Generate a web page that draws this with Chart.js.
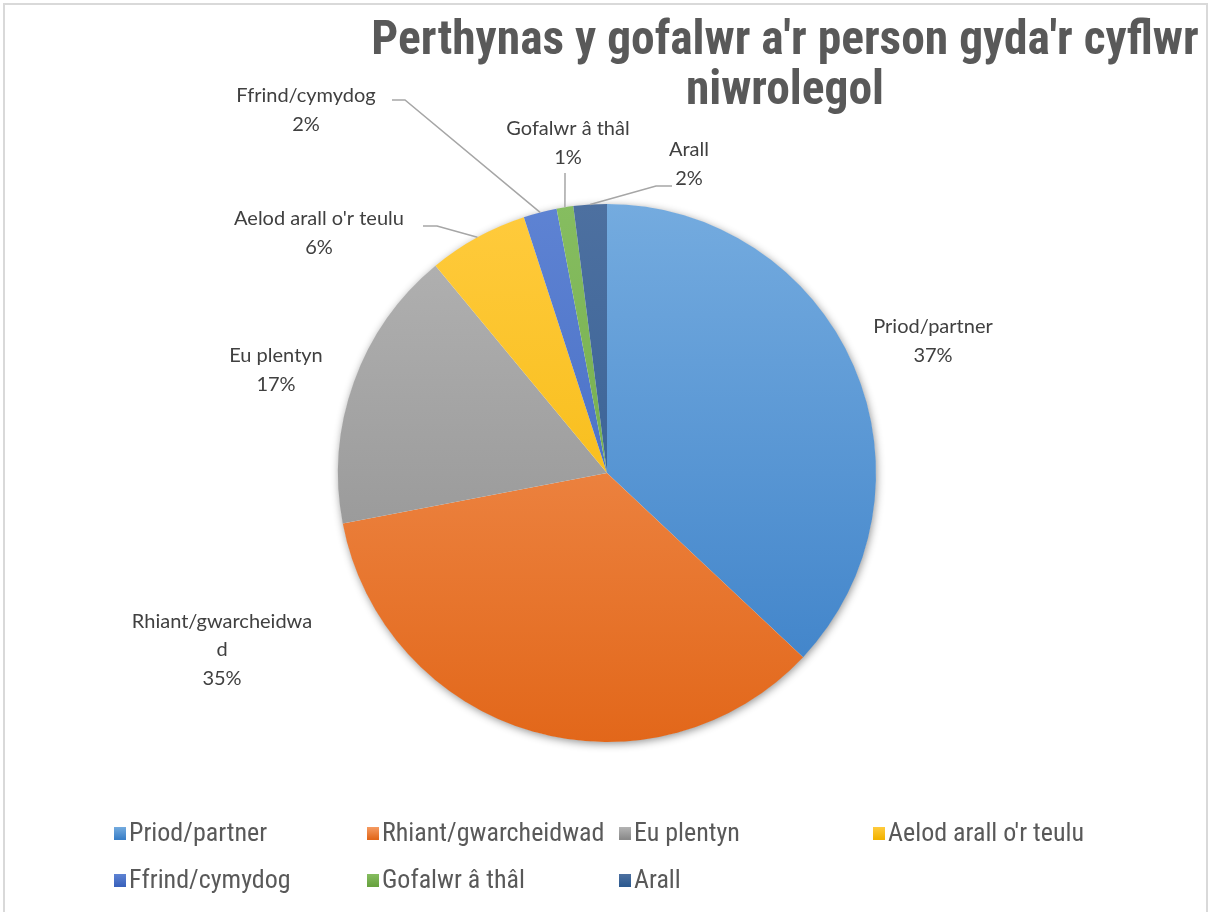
<!DOCTYPE html>
<html>
<head>
<meta charset="utf-8">
<script src="https://cdn.jsdelivr.net/npm/chart.js@4.4.1/dist/chart.umd.min.js"></script>
<style>
  html, body { margin: 0; padding: 0; background: #ffffff; }
  #wrap { position: relative; width: 1208px; height: 912px; }
  canvas { display: block; }
</style>
</head>
<body>
<div id="wrap"><canvas id="c" width="1208" height="912"></canvas></div>
<script>
// ---- data ----
const categories = ['Priod/partner', 'Rhiant/gwarcheidwad', 'Eu plentyn', "Aelod arall o'r teulu", 'Ffrind/cymydog', 'Gofalwr â thâl', 'Arall'];
const percentValues = [37, 35, 17, 6, 2, 1, 2];
const titleLines = ["Perthynas y gofalwr a'r person gyda'r cyflwr", 'niwrolegol'];

// ---- styles ----
const gradTop =    ['#74abdf', '#f59b62', '#b4b4b4', '#ffcb3d', '#5e83d3', '#86bd60', '#4d70a0'];
const gradBottom = ['#3a7fc7', '#e2671a', '#8a8a8a', '#f2b300', '#3a62bc', '#68a23f', '#2c5a90'];
// label text lines (as wrapped in the picture)
const labelLines = [
  ['Priod/partner'], ['Rhiant/gwarcheidwa', 'd'], ['Eu plentyn'], ["Aelod arall o'r teulu"],
  ['Ffrind/cymydog'], ['Gofalwr â thâl'], ['Arall']
];
// label block centre offsets from pie centre (px)
const labelPos = [[326, -132], [-385, 177], [-331, -103], [-288, -240], [-301, -363], [-39, -330], [82, -309]];
// leader elbow points [startX, startY, elbowX, elbowY] relative to pie centre, null = none
const leaders = [null, null, null,
  [-184, -247, -170, -247],
  [-215, -373, -202, -373],
  [-42, -300, -42, -290],
  [65, -287, 49, -287]];

const pieShadow = {
  id: 'pieShadow',
  beforeDatasetsDraw(chart) {
    const arc = chart.getDatasetMeta(0).data[0];
    if (!arc) return;
    const ctx = chart.ctx;
    ctx.save();
    ctx.shadowColor = 'rgba(0,0,0,0.45)';
    ctx.shadowBlur = 9;
    ctx.shadowOffsetX = 1;
    ctx.shadowOffsetY = 2;
    ctx.fillStyle = '#ffffff';
    ctx.beginPath();
    ctx.arc(arc.x, arc.y, arc.outerRadius - 0.5, 0, Math.PI * 2);
    ctx.fill();
    ctx.restore();
  }
};

const decorations = {
  id: 'decorations',
  afterDraw(chart) {
    const ctx = chart.ctx;
    const meta = chart.getDatasetMeta(0);
    const cx = meta.data[0].x, cy = meta.data[0].y;
    ctx.save();
    // frame
    ctx.strokeStyle = '#d9d9d9';
    ctx.lineWidth = 2;
    ctx.beginPath();
    ctx.moveTo(4, 912); ctx.lineTo(4, 4); ctx.lineTo(1207, 4); ctx.lineTo(1207, 912);
    ctx.stroke();

    // title
    ctx.fillStyle = '#595959';
    ctx.textAlign = 'center';
    ctx.textBaseline = 'middle';
    ctx.font = 'bold 47.5px "Roboto Condensed", "Liberation Sans Narrow", "Roboto", sans-serif';
    ctx.fillText(titleLines[0], 785, 42);
    ctx.fillText(titleLines[1], 785, 92);

    // leader lines
    ctx.strokeStyle = '#a6a6a6';
    ctx.lineWidth = 1.5;
    meta.data.forEach((a, i) => {
      const L = leaders[i];
      if (!L) return;
      const mid = (a.startAngle + a.endAngle) / 2;
      const px = cx + Math.cos(mid) * a.outerRadius;
      const py = cy + Math.sin(mid) * a.outerRadius;
      ctx.beginPath();
      ctx.moveTo(cx + L[0], cy + L[1]);
      ctx.lineTo(cx + L[2], cy + L[3]);
      ctx.lineTo(px, py);
      ctx.stroke();
    });

    // data labels
    ctx.fillStyle = '#404040';
    ctx.font = '20px "Lato", "Open Sans", sans-serif';
    const lh = 28.5;
    meta.data.forEach((a, i) => {
      const lines = labelLines[i].concat([percentValues[i] + '%']);
      const x = cx + labelPos[i][0];
      const y0 = cy + labelPos[i][1] - (lines.length - 1) * lh / 2;
      lines.forEach((t, k) => ctx.fillText(t, x, y0 + k * lh));
    });

    // legend
    ctx.font = '26px "Roboto Condensed", "Liberation Sans Narrow", "Roboto", sans-serif';
    ctx.textAlign = 'left';
    const colX = [114, 367, 619, 873];
    const rowY = [833, 880];
    categories.forEach((name, i) => {
      const col = i < 4 ? i : i - 4;
      const row = i < 4 ? 0 : 1;
      const bx = colX[col], by = rowY[row];
      const g = ctx.createLinearGradient(0, by - 6, 0, by + 6);
      g.addColorStop(0, gradTop[i]);
      g.addColorStop(1, gradBottom[i]);
      ctx.fillStyle = g;
      ctx.fillRect(bx, by - 6, 12, 13);
      ctx.fillStyle = '#595959';
      ctx.fillText(name, bx + 15, by + 1);
    });
    ctx.restore();
  }
};

function sliceColor(context) {
  const chart = context.chart;
  const area = chart.chartArea;
  if (!area) return gradTop[context.dataIndex];
  const g = chart.ctx.createLinearGradient(0, area.top, 0, area.bottom);
  g.addColorStop(0, gradTop[context.dataIndex]);
  g.addColorStop(1, gradBottom[context.dataIndex]);
  return g;
}

new Chart(document.getElementById('c'), {
  type: 'pie',
  data: {
    labels: categories,
    datasets: [{
      data: percentValues,
      backgroundColor: sliceColor,
      borderWidth: 0,
      hoverOffset: 0
    }]
  },
  options: {
    responsive: false,
    animation: false,
    events: [],
    layout: { padding: { top: 204, bottom: 170, left: 338, right: 332 } },
    plugins: {
      legend: { display: false },
      title: { display: false },
      tooltip: { enabled: false }
    }
  },
  plugins: [pieShadow, decorations]
});
</script>
</body>
</html>
